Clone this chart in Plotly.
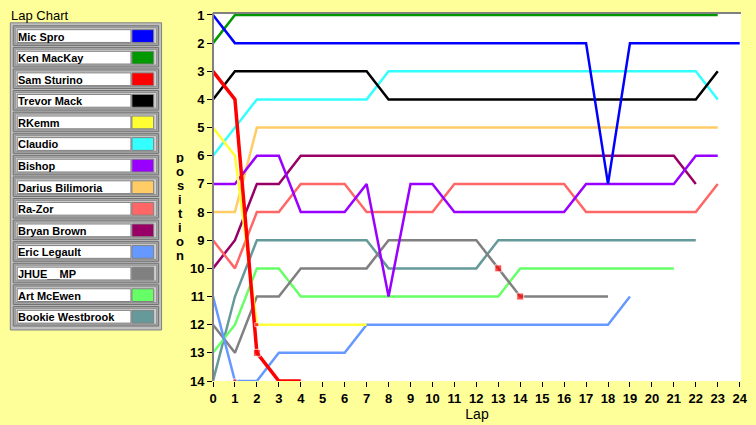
import plotly.graph_objects as go

# lap chart data: position of each driver after each lap (lap 0 = grid)
drivers = [
    "Mic Spro", "Ken MacKay", "Sam Sturino", "Trevor Mack", "RKemm",
    "Claudio", "Bishop", "Darius Bilimoria", "Ra-Zor", "Bryan Brown",
    "Eric Legault", "JHUE__MP", "Art McEwen", "Bookie Westbrook",
]
colors = [
    "#0000FF", "#009900", "#FF0000", "#000000", "#FFFF33",
    "#33FFFF", "#9900FF", "#FFCC66", "#FF6666", "#990066",
    "#6699FF", "#808080", "#66FF66", "#669999",
]

mic_spro = [1, 2, 2, 2, 2, 2, 2, 2, 2, 2, 2, 2, 2, 2, 2, 2, 2, 2, 7, 2, 2, 2, 2, 2, 2]
ken_mackay = [2, 1, 1, 1, 1, 1, 1, 1, 1, 1, 1, 1, 1, 1, 1, 1, 1, 1, 1, 1, 1, 1, 1, 1]
sam_sturino = [3, 4, 13, 14, 14]
trevor_mack = [4, 3, 3, 3, 3, 3, 3, 3, 4, 4, 4, 4, 4, 4, 4, 4, 4, 4, 4, 4, 4, 4, 4, 3]
rkemm = [5, 6, 12, 12, 12, 12, 12, 12]
claudio = [6, 5, 4, 4, 4, 4, 4, 4, 3, 3, 3, 3, 3, 3, 3, 3, 3, 3, 3, 3, 3, 3, 3, 4]
bishop = [7, 7, 6, 6, 8, 8, 8, 7, 11, 7, 7, 8, 8, 8, 8, 8, 8, 7, 7, 7, 7, 7, 6, 6]
darius = [8, 8, 5, 5, 5, 5, 5, 5, 5, 5, 5, 5, 5, 5, 5, 5, 5, 5, 5, 5, 5, 5, 5, 5]
ra_zor = [9, 10, 8, 8, 7, 7, 7, 8, 8, 8, 8, 7, 7, 7, 7, 7, 7, 8, 8, 8, 8, 8, 8, 7]
bryan_brown = [10, 9, 7, 7, 6, 6, 6, 6, 6, 6, 6, 6, 6, 6, 6, 6, 6, 6, 6, 6, 6, 6, 7]
eric_legault = [11, 14, 14, 13, 13, 13, 13, 12, 12, 12, 12, 12, 12, 12, 12, 12, 12, 12, 12, 11]
jhue_mp = [12, 13, 11, 11, 10, 10, 10, 10, 9, 9, 9, 9, 9, 10, 11, 11, 11, 11, 11]
art_mcewen = [13, 12, 10, 10, 11, 11, 11, 11, 11, 11, 11, 11, 11, 11, 10, 10, 10, 10, 10, 10, 10, 10]
bookie = [14, 11, 9, 9, 9, 9, 9, 9, 10, 10, 10, 10, 10, 9, 9, 9, 9, 9, 9, 9, 9, 9, 9]

positions = [
    mic_spro, ken_mackay, sam_sturino, trevor_mack, rkemm, claudio, bishop,
    darius, ra_zor, bryan_brown, eric_legault, jhue_mp, art_mcewen, bookie,
]

# red squares (pit stops)
pit_laps = [1, 2, 2, 13, 14]
pit_pos = [14, 12, 13, 10, 11]

W, H = 756, 425
L, R, T, B = 213, 9, 8, 42
FONT = "Liberation Sans"


def px(x):
    return (x - L) / (W - L - R)


def py(y):
    return (H - B - y) / (H - T - B)


fig = go.Figure()

# first driver on top, so add in reverse
for name, col, pos in reversed(list(zip(drivers, colors, positions))):
    width = 3.5 if name == "Sam Sturino" else 2.5
    fig.add_trace(go.Scatter(
        x=list(range(len(pos))),
        y=pos,
        mode="lines",
        name=name,
        line=dict(color=col, width=width),
        showlegend=False,
        hoverinfo="skip",
    ))

fig.add_trace(go.Scatter(
    x=pit_laps,
    y=pit_pos,
    mode="markers",
    marker=dict(symbol="square", color="#FF0000", size=[4, 4, 7, 7, 7]),
    showlegend=False,
    hoverinfo="skip",
))

shapes = [
    # sunken frame: top and left gray edges
    dict(type="line", xref="paper", yref="paper", x0=0, x1=1, y0=1, y1=1,
         line=dict(color="#808080", width=2)),
    dict(type="line", xref="paper", yref="paper", x0=0, x1=0, y0=0, y1=1,
         line=dict(color="#808080", width=2)),
    # legend box
    dict(type="rect", xref="paper", yref="paper",
         x0=px(8), x1=px(161), y0=py(18), y1=py(331),
         fillcolor="#C0C0C0", line=dict(color="#808080", width=1)),
]
annotations = [
    dict(text="Lap Chart", xref="paper", yref="paper", x=px(7), y=py(11),
         xanchor="left", yanchor="middle", showarrow=False,
         font=dict(family=FONT, size=13, color="black")),
]

# vertical axis title, one upright letter per line
for i, ch in enumerate("position"):
    annotations.append(dict(text=ch, xref="paper", yref="paper",
                            x=px(180), y=py(155 + 14.2 * i),
                            xanchor="center", yanchor="middle",
                            height=12, borderpad=0,
                            showarrow=False,
                            font=dict(family=FONT, size=13, color="black",
                                      weight="bold")))

for i, (name, col) in enumerate(zip(drivers, colors)):
    top = 21 + 22 * i
    shapes.append(dict(type="rect", xref="paper", yref="paper",
                       x0=px(11), x1=px(158), y0=py(top), y1=py(top + 20),
                       fillcolor="#A8A8A8", line=dict(color="#707070", width=1)))
    shapes.append(dict(type="rect", xref="paper", yref="paper",
                       x0=px(13), x1=px(156), y0=py(top + 2), y1=py(top + 18),
                       fillcolor="#D0D0D0", line=dict(color="#909090", width=1)))
    shapes.append(dict(type="rect", xref="paper", yref="paper",
                       x0=px(15), x1=px(130), y0=py(top + 4), y1=py(top + 17),
                       fillcolor="white", line=dict(color="#808080", width=1)))
    shapes.append(dict(type="rect", xref="paper", yref="paper",
                       x0=px(131), x1=px(153), y0=py(top + 4), y1=py(top + 17),
                       fillcolor=col, line=dict(color="#808080", width=1)))
    annotations.append(dict(text=name, xref="paper", yref="paper",
                            x=px(14), y=py(top + 11), xanchor="left",
                            yanchor="middle", showarrow=False,
                            font=dict(family=FONT, size=11, color="black",
                                      weight="bold")))

fig.update_layout(
    width=W,
    height=H,
    margin=dict(l=L, r=R, t=T, b=B, pad=0),
    paper_bgcolor="#FFFF99",
    plot_bgcolor="white",
    shapes=shapes,
    annotations=annotations,
    hovermode=False,
    xaxis=dict(
        range=[0, 24.06],
        tickmode="linear", tick0=0, dtick=1,
        ticks="outside", ticklen=5, tickcolor="black",
        showgrid=False, zeroline=False, showline=False,
        tickfont=dict(family=FONT, size=13, color="black", weight="bold"),
        title=dict(text="Lap", standoff=2,
                   font=dict(family=FONT, size=14, color="black")),
    ),
    yaxis=dict(
        range=[14, 0.93],
        tickmode="linear", tick0=1, dtick=1,
        ticks="outside", ticklen=5, tickcolor="black",
        showgrid=False, zeroline=False, showline=False,
        tickfont=dict(family=FONT, size=13, color="black", weight="bold"),
    ),
)

# drop the default 8px page margin so the figure fills the window
fig.write_html("out.html", config={"displayModeBar": False},
               post_script="document.body.style.margin='0';")
